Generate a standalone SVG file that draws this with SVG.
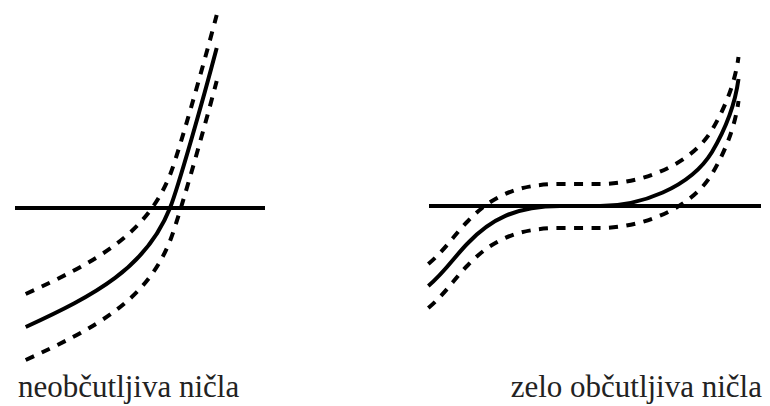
<svg xmlns="http://www.w3.org/2000/svg" width="770" height="406" viewBox="0 0 770 406">
<style>
.ln{fill:none;stroke:#000;stroke-width:4}
.ds{fill:none;stroke:#000;stroke-width:4;stroke-dasharray:9 8.5}
.lbl{font-family:"Liberation Serif","Times New Roman",serif;font-size:31px;fill:#222}
</style>
<defs>
<path id="fL" d="M25.7,327 C95.7,294.8 146,268 170,208 C178,188 203,100 216.7,48"/>
<path id="fR" d="M428.3,286 C445,272 455,256 468,243 C490,220 515,206 560,206 L600,206 C640,206 690,188 712,152 C725,130 735,105 738.5,79"/>
</defs>
<g id="left-plot">
<line class="ln" x1="15" y1="208" x2="265" y2="208"/>
<use href="#fL" class="ln"/>
<use href="#fL" class="ds" transform="translate(0,-33)"/>
<use href="#fL" class="ds" transform="translate(0,33)"/>
</g>
<g id="right-plot">
<line class="ln" x1="429" y1="206" x2="761" y2="206"/>
<use href="#fR" class="ln"/>
<use href="#fR" class="ds" transform="translate(0,-22)"/>
<use href="#fR" class="ds" transform="translate(0,22)"/>
</g>
<g id="labels">
<text class="lbl" x="18" y="397">neobčutljiva ničla</text>
<text class="lbl" x="762" y="397" text-anchor="end">zelo občutljiva ničla</text>
</g>
</svg>
